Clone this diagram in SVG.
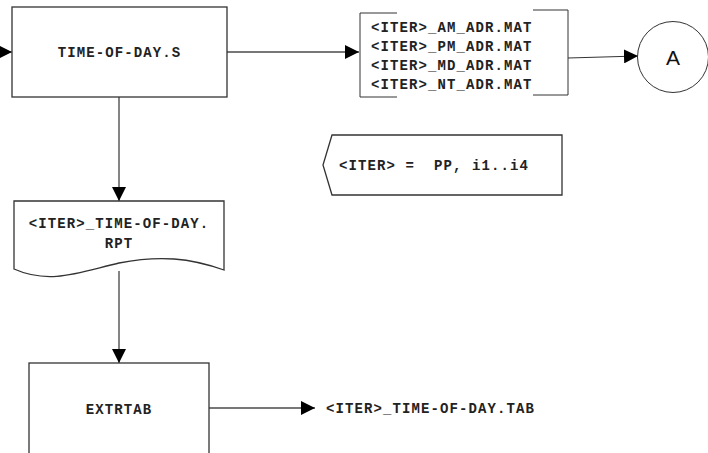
<svg xmlns="http://www.w3.org/2000/svg" width="708" height="453" viewBox="0 0 708 453">
<style>
.shape{fill:#fff;stroke:#333;stroke-width:1.3}
.conn{fill:none;stroke:#777;stroke-width:1.8}
.thin{fill:none;stroke:#333;stroke-width:1}
.t{font-family:"Liberation Mono","Courier New",monospace;font-weight:bold;font-size:14px;letter-spacing:1.1px;fill:#222;white-space:pre}
.a{font-family:"Liberation Sans",Arial,sans-serif;font-size:21px;fill:#111}
</style>
<defs>
<marker id="ah" markerWidth="14" markerHeight="14" viewBox="0 0 14 14" refX="14" refY="7" orient="auto" markerUnits="userSpaceOnUse">
<path d="M0,0 L14,7 L0,14 Z" fill="#000"/>
</marker>
</defs>
<rect width="708" height="453" fill="#fff"/>
<g id="connectors">
<line class="conn" x1="0" y1="52" x2="12" y2="52" marker-end="url(#ah)"/>
<line class="conn" x1="227" y1="52" x2="359" y2="52" marker-end="url(#ah)"/>
<line class="thin" x1="568" y1="58" x2="638" y2="56" marker-end="url(#ah)"/>
<line class="conn" x1="119" y1="97" x2="119" y2="201" marker-end="url(#ah)"/>
<line class="conn" x1="119" y1="271" x2="119" y2="363" marker-end="url(#ah)"/>
<line class="conn" x1="209" y1="408" x2="315" y2="408" marker-end="url(#ah)"/>
</g>
<g id="time-of-day-s">
<rect class="shape" x="12" y="7" width="215" height="90"/>
<text class="t" x="119.5" y="57" text-anchor="middle">TIME-OF-DAY.S</text>
</g>
<g id="adr-mat">
<path class="thin" d="M397,13 H360 V97 H397" stroke="#444" stroke-width="1.3"/>
<path class="thin" d="M533,10 H568 V95 H533" stroke="#444" stroke-width="1.3"/>
<text class="t" x="371" y="32">&lt;ITER&gt;_AM_ADR.MAT</text>
<text class="t" x="371" y="51">&lt;ITER&gt;_PM_ADR.MAT</text>
<text class="t" x="371" y="70">&lt;ITER&gt;_MD_ADR.MAT</text>
<text class="t" x="371" y="89">&lt;ITER&gt;_NT_ADR.MAT</text>
</g>
<g id="connector-a">
<circle class="thin" cx="673" cy="57" r="35.5" fill="#fff"/>
<text class="a" x="673" y="64.5" text-anchor="middle">A</text>
</g>
<g id="iter-def">
<path class="shape" d="M332,135 H562 V195 H332 L323,165 Z"/>
<text class="t" x="339" y="170" xml:space="preserve">&lt;ITER&gt; =  PP, i1..i4</text>
</g>
<g id="time-of-day-rpt">
<path class="shape" d="M14,201 H224 V270 C190,258 160,255 119,263 C80,272 50,285 14,269 Z"/>
<text class="t" x="119" y="228" text-anchor="middle">&lt;ITER&gt;_TIME-OF-DAY.</text>
<text class="t" x="119" y="248" text-anchor="middle">RPT</text>
</g>
<g id="extrtab">
<rect class="shape" x="29" y="363" width="180" height="100"/>
<text class="t" x="119" y="414" text-anchor="middle">EXTRTAB</text>
</g>
<g id="time-of-day-tab">
<text class="t" x="326" y="413">&lt;ITER&gt;_TIME-OF-DAY.TAB</text>
</g>
</svg>
